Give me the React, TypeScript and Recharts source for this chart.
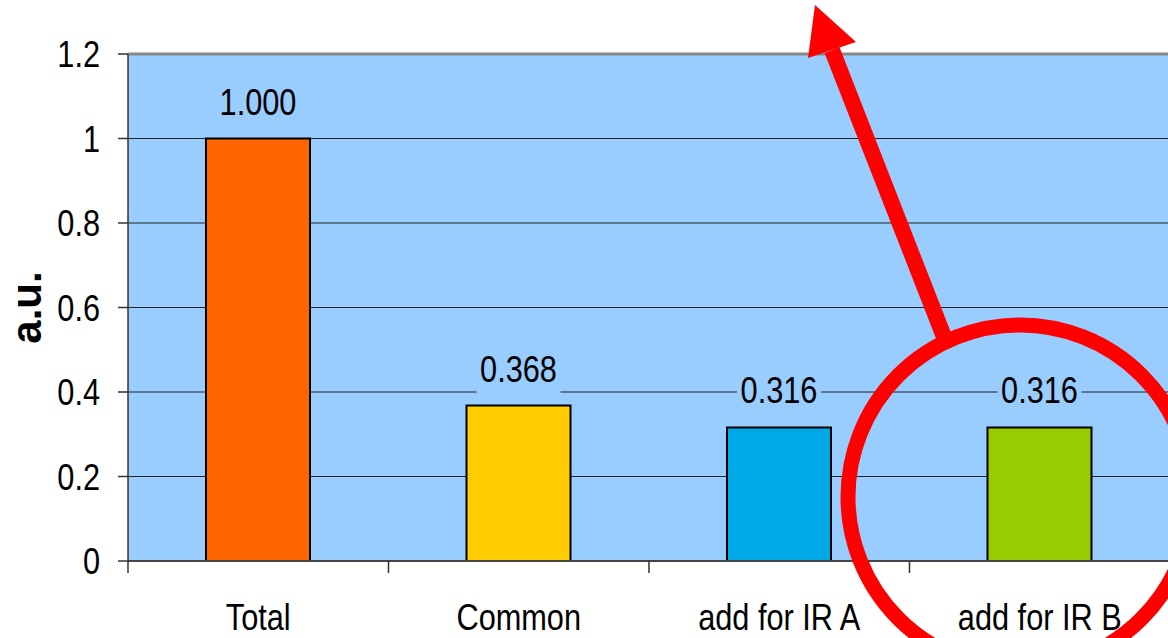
import { Bar, BarChart, CartesianGrid, Cell, LabelList, ReferenceLine, XAxis, YAxis } from 'recharts'

const categories = ['Total', 'Common', 'add for IR A', 'add for IR B']
const values = [1.0, 0.368, 0.316, 0.316]
const yTicks = [0, 0.2, 0.4, 0.6, 0.8, 1, 1.2]

const barColors = ['#FF6600', '#FFCC00', '#00A8E6', '#99CC00']
const plotBg = '#99CCFF'
const font = "'Liberation Sans', Arial, sans-serif"
const SQUEEZE = 0.83

const data = categories.map((name, i) => ({ name, value: values[i] }))

const WIDTH = 1170
const HEIGHT = 638
const LEFT = 128
const BAND = (WIDTH - LEFT) / categories.length

// the original uses a condensed face, so squeeze regular text horizontally
function NarrowText({ x, y, anchor, children }: any) {
  return (
    <text
      transform={`translate(${x}, ${y}) scale(${SQUEEZE}, 1)`}
      x={0}
      y={0}
      textAnchor={anchor}
      fontSize={37}
      fontFamily={font}
      fill="#000"
    >
      {children}
    </text>
  )
}

function CategoryTick(props: any) {
  const { x, y, payload } = props
  const edge = x - BAND / 2
  return (
    <g>
      <line x1={edge} y1={y - 12} x2={edge} y2={y} stroke="#333" strokeWidth={1.5} />
      <NarrowText x={x} y={y + 57} anchor="middle">
        {payload.value}
      </NarrowText>
    </g>
  )
}

function ValueTick(props: any) {
  const { x, y, payload } = props
  return (
    <NarrowText x={x} y={y + 13} anchor="end">
      {String(payload.value)}
    </NarrowText>
  )
}

function ValueLabel(props: any) {
  const { x, y, width, value } = props
  const cx = x + width / 2
  const base = y - 24
  return (
    <g>
      <rect x={cx - 42} y={base - 32} width={84} height={46} fill={plotBg} />
      <NarrowText x={cx} y={base} anchor="middle">
        {Number(value).toFixed(3)}
      </NarrowText>
    </g>
  )
}

function AxisTitle(props: any) {
  const { viewBox } = props
  const cy = viewBox.y + viewBox.height / 2
  return (
    <text
      x={0}
      y={0}
      transform={`translate(41, ${cy}) rotate(-90)`}
      textAnchor="middle"
      fontSize={42}
      fontWeight="bold"
      fontFamily={font}
      fill="#000"
    >
      a.u.
    </text>
  )
}

export default function App() {
  return (
    <div style={{ position: 'absolute', left: 0, top: 0, width: 1168, height: HEIGHT, overflow: 'hidden', background: '#fff' }}>
      <BarChart
        width={WIDTH}
        height={HEIGHT}
        data={data}
        margin={{ top: 54, right: 0, left: 0, bottom: 0 }}
      >
        <CartesianGrid vertical={false} stroke="#222" strokeWidth={1} fill={plotBg} fillOpacity={1} />
        <XAxis
          dataKey="name"
          height={77}
          tickSize={12}
          tickMargin={0}
          tickLine={false}
          axisLine={{ stroke: '#444', strokeWidth: 2 }}
          tick={<CategoryTick />}
          interval={0}
        />
        <YAxis
          width={LEFT}
          domain={[0, 1.2]}
          ticks={yTicks}
          interval={0}
          tickSize={10}
          tickMargin={18}
          tickLine={{ stroke: '#333', strokeWidth: 1.5 }}
          axisLine={{ stroke: '#333', strokeWidth: 1.5 }}
          tick={<ValueTick />}
          label={<AxisTitle />}
        />
        <ReferenceLine y={1.2} stroke="#888" strokeWidth={3} />
        <Bar dataKey="value" barSize={104} stroke="#000" strokeWidth={2} isAnimationActive={false}>
          {data.map((d, i) => (
            <Cell key={d.name} fill={barColors[i]} />
          ))}
          <LabelList dataKey="value" content={<ValueLabel />} />
        </Bar>
      </BarChart>
      <svg
        width={1168}
        height={HEIGHT}
        style={{ position: 'absolute', left: 0, top: 0, pointerEvents: 'none' }}
      >
        <circle cx={1020} cy={497} r={172} fill="none" stroke="#FF0000" strokeWidth={15} />
        <line x1={946} y1={342} x2={832} y2={50} stroke="#FF0000" strokeWidth={16} />
        <polygon points="815,5 808,58 856,42" fill="#FF0000" />
      </svg>
    </div>
  )
}
